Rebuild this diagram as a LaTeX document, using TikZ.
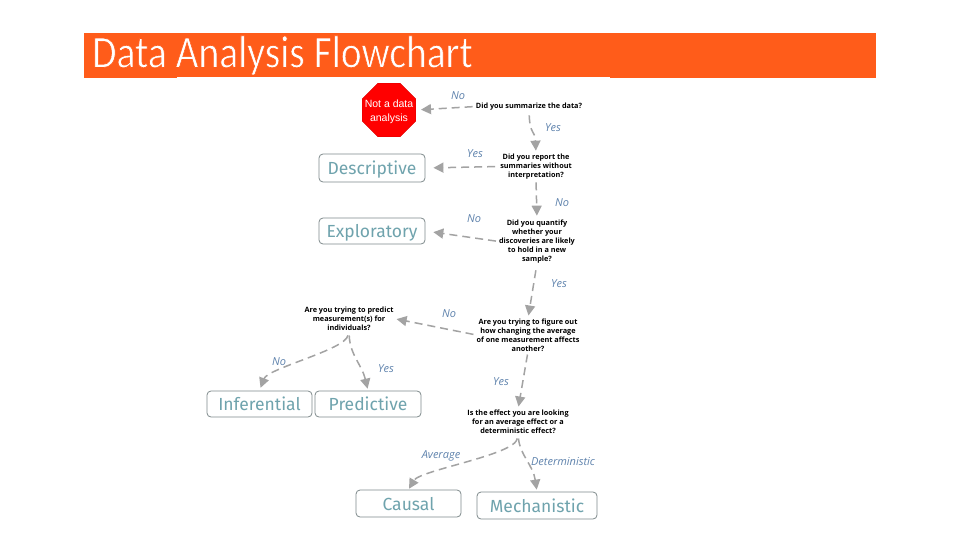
\documentclass[tikz,border=0pt]{standalone}
\usepackage{fontspec}
\usetikzlibrary{arrows.meta,shapes.geometric}
\setmainfont{Open Sans}
\newfontfamily\titlefont{Carlito}
\newfontfamily\boxfont{Fira Sans}
\newfontfamily\octfont{Liberation Sans}
\definecolor{barc}{HTML}{FF5C1A}
\definecolor{tealc}{HTML}{6FA3AD}
\definecolor{labc}{HTML}{5F83AD}
\definecolor{edgec}{HTML}{7F8A8C}
\definecolor{arrc}{HTML}{A3A3A3}
\tikzset{
  outcome/.style={draw=edgec,line width=0.8pt,rounded corners=4pt,fill=white,text=tealc,font=\boxfont\fontsize{17.5}{18}\selectfont,inner sep=0pt,anchor=center,text height=16.5pt,text depth=3.5pt},
  question/.style={align=center,inner sep=0pt,font=\fontsize{7.3}{9}\selectfont\bfseries,text=black},
  lab/.style={font=\fontsize{11}{12}\selectfont\itshape,text=labc,inner sep=0pt},
  flow/.style={draw=arrc,line width=1.5pt,dash pattern=on 8pt off 5pt,-{Triangle[length=10pt,width=10pt,fill=arrc]}},
}
\begin{document}
\begin{tikzpicture}[x=1pt,y=-1pt]
\useasboundingbox (0,0) rectangle (960,540);
\fill[white] (0,0) rectangle (960,540);
\fill[barc] (84,33) rectangle (876,78);
\fill[white] (177,77) rectangle (610,79);
\node[inner sep=0pt,anchor=base west,text=white,font=\titlefont\fontsize{39.5}{42}\selectfont] (title) at (92,67.5) {\scalebox{1}[1.16]{\special{pdf: code q 2 Tr 0.55 w 1 0.361 0.102 RG}Data Analysis Flowchart\special{pdf: code 0 Tr Q}}};

\node[regular polygon,regular polygon sides=8,fill=red,draw=red!85!black,line width=0.4pt,minimum size=58pt,inner sep=0pt] (stop) at (389,110) {};
\node[align=center,inner sep=0pt,text=white,font=\octfont\fontsize{10.5}{13.5}\selectfont] (stoptext) at (389,112) {Not a data\\analysis};

\node[question] (q1) at (529,106.5) {Did you summarize the data?};
\node[question] (q2) at (536,166.5) {Did you report the\\summaries without\\interpretation?};
\node[question] (q3) at (537,241.5) {Did you quantify\\whether your\\discoveries are likely\\to hold in a new\\sample?};
\node[question] (q4) at (528,335) {Are you trying to figure out\\how changing the average\\of one measurement affects\\another?};
\node[question] (q5) at (349,318.5) {Are you trying to predict\\measurement(s) for\\individuals?};
\node[question] (q6) at (518,421.5) {Is the effect you are looking\\for an average effect or a\\deterministic effect?};

\node[outcome,minimum width=106pt,minimum height=28pt] (desc) at (372,168) {Descriptive};
\node[outcome,minimum width=106pt,minimum height=26pt] (expl) at (372,231) {Exploratory};
\node[outcome,minimum width=105pt,minimum height=26pt] (inf) at (259.5,404) {Inferential};
\node[outcome,minimum width=106pt,minimum height=26pt] (pred) at (368,404) {Predictive};
\node[outcome,minimum width=105pt,minimum height=27pt] (caus) at (408.5,503.5) {Causal};
\node[outcome,minimum width=120pt,minimum height=27pt] (mech) at (537,505.5) {Mechanistic};

\draw[flow,shorten <=3pt,shorten >=5pt] (q1.west) -- (stop.east);
\draw[flow,shorten <=5pt,shorten >=3pt] (q1.south) .. controls (530,135) and (535,130) .. (q2.north);
\draw[flow,shorten <=5pt,shorten >=8pt] (q2.west) -- (desc.east);
\draw[flow,shorten <=3pt,shorten >=4pt] (q2.south) -- (q3.north);
\draw[flow,shorten <=3pt,shorten >=8pt] (q3.west) -- (expl.east);
\draw[flow,shorten <=7pt,shorten >=3pt] (q3.south) -- (q4.north);
\draw[flow,shorten <=3pt,shorten >=3pt] (q4.west) -- (q5.east);
\draw[flow,shorten <=3pt,shorten >=3pt] (q4.south) -- (q6.north);
\draw[flow,shorten <=5pt,shorten >=3pt] (q5.south) .. controls (345,350) and (268,368) .. (inf.north);
\draw[flow,shorten <=5pt,shorten >=2pt] (q5.south) .. controls (350,355) and (362,365) .. (pred.north);
\draw[flow,shorten <=5pt,shorten >=1pt] (q6.south) .. controls (515,455) and (420,470) .. (caus.north);
\draw[flow,shorten <=5pt,shorten >=2pt] (q6.south) .. controls (520,455) and (533,465) .. (mech.north);

\node[lab] (l1) at (458,96) {No};
\node[lab] (l2) at (553,128) {Yes};
\node[lab] (l3) at (475,154) {Yes};
\node[lab] (l4) at (562,203) {No};
\node[lab] (l5) at (474,219) {No};
\node[lab] (l6) at (559,284) {Yes};
\node[lab] (l7) at (449,314) {No};
\node[lab] (l8) at (501,382) {Yes};
\node[lab] (l9) at (279,362) {No};
\node[lab] (l10) at (386,369) {Yes};
\node[lab] (l11) at (441,456) {Average};
\node[lab] (l12) at (563,462) {Deterministic};
\end{tikzpicture}
\end{document}
